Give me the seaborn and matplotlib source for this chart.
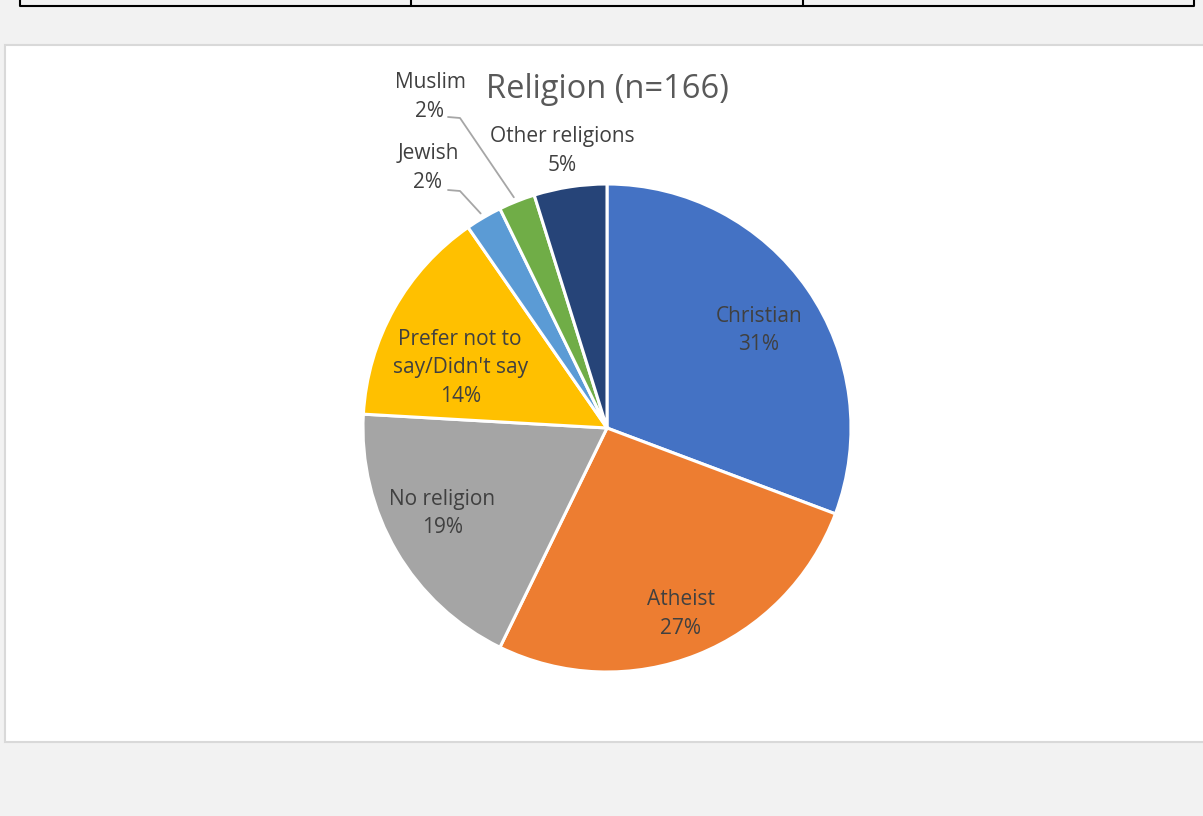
import numpy as np
import matplotlib
matplotlib.use('Agg')
import matplotlib.pyplot as plt
import seaborn as sns

# data (counts out of n=166)
categories = ['Christian', 'Atheist', 'No religion', "Prefer not to\nsay/Didn't say",
              'Jewish', 'Muslim', 'Other religions']
counts = [51, 44, 31, 24, 4, 4, 8]
pct_labels = ['31%', '27%', '19%', '14%', '2%', '2%', '5%']
colors = ['#4472C4', '#ED7D31', '#A5A5A5', '#FFC000', '#5B9BD5', '#70AD47', '#264478']

sns.set_theme(style='white')
plt.rcParams['font.family'] = ['Open Sans', 'DejaVu Sans']

W, H = 1203, 816
fig = plt.figure(figsize=(W / 100, H / 100), dpi=100)
fig.patch.set_facecolor('#F2F2F2')
ax = fig.add_axes([0, 0, 1, 1])
ax.set_xlim(0, W)
ax.set_ylim(0, H)
ax.axis('off')

# page background pieces (table at top, white chart area)
ax.add_patch(plt.Rectangle((5, H - 742), W, 742 - 45, facecolor='white',
                           edgecolor='#D9D9D9', lw=1.5, zorder=0))
ax.plot([20, 20, 1194, 1194], [H, H - 6, H - 6, H], color='black', lw=1.5)
for xv in [411, 803]:
    ax.plot([xv, xv], [H, H - 6], color='black', lw=1.5)

cx, cy, R = 607, H - 428, 244
wedges, _ = ax.pie(counts, colors=colors, startangle=90, counterclock=False,
                   center=(cx, cy), radius=R, frame=True,
                   wedgeprops=dict(edgecolor='white', linewidth=2.2))
ax.set_xlim(0, W)
ax.set_ylim(0, H)
ax.set_aspect('equal')
ax.axis('off')

txt_col = '#404040'
fs = 15
ls = 1.45
# label positions inside wedges: (radius fraction, angle nudge)
inside = {0: (0.74, -2), 1: (0.82, 0), 2: (0.76, -3), 3: (0.65, 7)}
for i, (fr, nudge) in inside.items():
    w = wedges[i]
    ang = np.deg2rad((w.theta1 + w.theta2) / 2 + nudge)
    ax.text(cx + fr * R * np.cos(ang), cy + fr * R * np.sin(ang),
            categories[i] + '\n' + pct_labels[i], ha='center', va='center',
            fontsize=fs, color=txt_col, linespacing=ls)

# outside labels
ax.text(562, H - 151, categories[6] + '\n' + pct_labels[6], ha='center', va='center',
        fontsize=fs, color=txt_col, linespacing=ls)
ax.text(428, H - 168, categories[4] + '\n' + pct_labels[4], ha='center', va='center',
        fontsize=fs, color=txt_col, linespacing=ls)
ax.text(430, H - 97, categories[5] + '\n' + pct_labels[5], ha='center', va='center',
        fontsize=fs, color=txt_col, linespacing=ls)

# leader lines
for i, (x0, y0) in [(4, (448, 190)), (5, (448, 117))]:
    w = wedges[i]
    ang = np.deg2rad((w.theta1 + w.theta2) / 2)
    ex, ey = cx + R * np.cos(ang), cy + R * np.sin(ang)
    ax.plot([x0, x0 + 12, ex - 3, ], [H - y0, H - y0 - 1, ey + 4], color='#A6A6A6', lw=1.3)

ax.text(cx, H - 89, 'Religion (n=166)', ha='center', va='center',
        fontsize=23.5, color='#595959')

fig.savefig('out.png', dpi=100, facecolor=fig.get_facecolor())
